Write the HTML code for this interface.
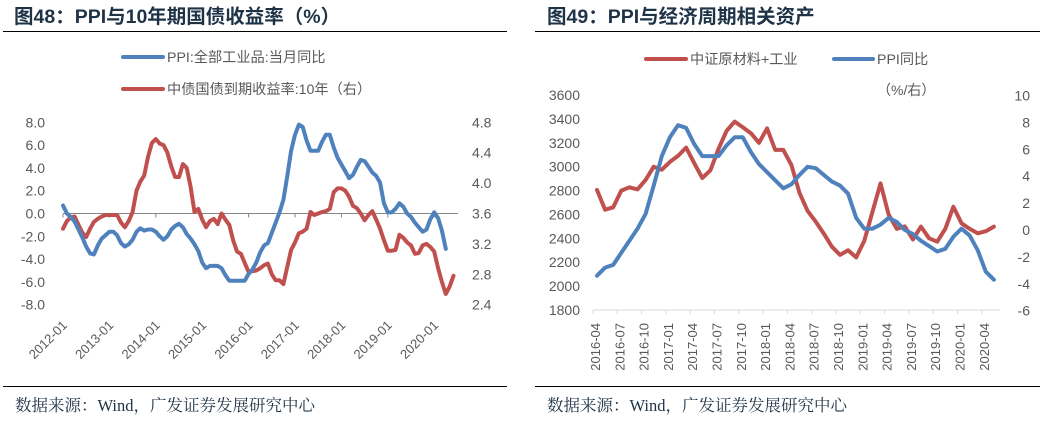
<!DOCTYPE html>
<html><head><meta charset="utf-8">
<style>
body{margin:0;background:#fff;width:1040px;height:424px;overflow:hidden;font-family:"Liberation Sans","Noto Sans CJK SC",sans-serif;}
svg{position:absolute;left:0;top:0}
</style></head>
<body>
<svg id="s" width="1040" height="424" viewBox="0 0 1040 424">
<g>
<text x="14" y="23" font-size="19.5" font-weight="bold" fill="#1f3347">图48：PPI与10年期国债收益率（%）</text>
<line x1="3" y1="31.5" x2="507" y2="31.5" stroke="#000" stroke-width="1"/>
<line x1="123" y1="57" x2="163" y2="57" stroke="#4f81bd" stroke-width="4" stroke-linecap="round"/>
<text x="167" y="62" font-size="14.2" fill="#595959">PPI:全部工业品:当月同比</text>
<line x1="123" y1="89" x2="163" y2="89" stroke="#c0504d" stroke-width="4" stroke-linecap="round"/>
<text x="167" y="94" font-size="14.2" fill="#595959">中债国债到期收益率:10年（右）</text>
<g id="L"></g>
<line x1="3" y1="386.5" x2="507" y2="386.5" stroke="#000" stroke-width="1"/>
<text x="15" y="411" font-size="16.5" fill="#1f3347" font-family="Liberation Serif,Noto Serif CJK SC,serif">数据来源：Wind，广发证券发展研究中心</text>
</g>
<g>
<text x="547" y="23" font-size="19.5" font-weight="bold" fill="#1f3347">图49：PPI与经济周期相关资产</text>
<line x1="535" y1="31.5" x2="1040" y2="31.5" stroke="#000" stroke-width="1"/>
<line x1="646" y1="59" x2="686" y2="59" stroke="#c0504d" stroke-width="4" stroke-linecap="round"/>
<text x="690" y="64" font-size="14.2" fill="#595959">中证原材料+工业</text>
<line x1="834" y1="59" x2="873" y2="59" stroke="#4f81bd" stroke-width="4" stroke-linecap="round"/>
<text x="877" y="64" font-size="14.2" fill="#595959">PPI同比</text>
<text x="877" y="95" font-size="14" fill="#595959">（%/右）</text>
<g id="R"></g>
<line x1="535" y1="386.5" x2="1040" y2="386.5" stroke="#000" stroke-width="1"/>
<text x="547" y="411" font-size="16.5" fill="#1f3347" font-family="Liberation Serif,Noto Serif CJK SC,serif">数据来源：Wind，广发证券发展研究中心</text>
</g>
</svg>
<script>
// ---- Left chart data ----
const leftYearLabels=["2012-01","2013-01","2014-01","2015-01","2016-01","2017-01","2018-01","2019-01","2020-01"];
const leftLeftTicks=[8,6,4,2,0,-2,-4,-6,-8];
const leftRightTicks=[4.8,4.4,4.0,3.6,3.2,2.8,2.4];
const ppiMonthly=[0.7,0.0,-0.3,-0.7,-1.4,-2.1,-2.9,-3.5,-3.6,-2.8,-2.2,-1.9,
-1.6,-1.6,-1.9,-2.6,-2.9,-2.7,-2.3,-1.6,-1.3,-1.5,-1.4,-1.4,
-1.6,-2.0,-2.3,-2.0,-1.4,-1.1,-0.9,-1.2,-1.8,-2.2,-2.7,-3.3,
-4.3,-4.8,-4.6,-4.6,-4.6,-4.8,-5.4,-5.9,-5.9,-5.9,-5.9,-5.9,
-5.3,-4.9,-4.3,-3.4,-2.8,-2.6,-1.7,-0.8,0.1,1.2,3.3,5.5,
6.9,7.8,7.6,6.4,5.5,5.5,5.5,6.3,6.9,6.9,5.8,4.9,
4.3,3.7,3.1,3.4,4.1,4.7,4.6,4.1,3.6,3.3,2.7,0.9,
0.1,0.1,0.4,0.9,0.6,0.0,-0.3,-0.8,-1.2,-1.6,-1.4,-0.5,
0.1,-0.4,-1.5,-3.1];
const yield10y=[3.40,3.50,3.55,3.56,3.45,3.35,3.29,3.40,3.49,3.53,3.56,3.58,
3.58,3.58,3.58,3.48,3.42,3.50,3.62,3.90,4.02,4.10,4.35,4.53,
4.58,4.52,4.50,4.40,4.22,4.08,4.08,4.25,4.20,3.95,3.62,3.66,
3.52,3.42,3.50,3.53,3.46,3.60,3.52,3.45,3.25,3.10,3.07,2.95,
2.83,2.84,2.85,2.88,2.92,2.94,2.80,2.72,2.72,2.67,2.90,3.12,
3.22,3.34,3.36,3.40,3.62,3.58,3.60,3.62,3.63,3.66,3.88,3.93,
3.93,3.90,3.82,3.70,3.67,3.60,3.51,3.58,3.63,3.52,3.40,3.25,
3.11,3.11,3.12,3.32,3.28,3.22,3.18,3.07,3.08,3.18,3.20,3.16,
3.10,2.88,2.70,2.54,2.64,2.78];
// ---- Right chart data ----
const rightMonthLabels=["2016-04","2016-07","2016-10","2017-01","2017-04","2017-07","2017-10","2018-01","2018-04","2018-07","2018-10","2019-01","2019-04","2019-07","2019-10","2020-01","2020-04"];
const rightLeftTicks=[3600,3400,3200,3000,2800,2600,2400,2200,2000,1800];
const rightRightTicks=[10,8,6,4,2,0,-2,-4,-6];
const materialsIndex=[2805,2640,2660,2800,2827,2810,2889,3000,2975,3040,3090,3160,3030,2905,2970,3150,3300,3377,3330,3280,3200,3320,3140,3140,3014,2780,2630,2540,2440,2330,2261,2300,2240,2380,2620,2860,2600,2480,2500,2390,2498,2400,2372,2480,2665,2526,2480,2442,2460,2498];
const ppiYoY=[-3.4,-2.8,-2.6,-1.7,-0.8,0.1,1.2,3.3,5.5,6.9,7.8,7.6,6.4,5.5,5.5,5.5,6.3,6.9,6.9,5.8,4.9,4.3,3.7,3.1,3.4,4.1,4.7,4.6,4.1,3.6,3.3,2.7,0.9,0.1,0.1,0.4,0.9,0.6,0.0,-0.3,-0.8,-1.2,-1.6,-1.4,-0.5,0.1,-0.4,-1.5,-3.1,-3.7];

const NS="http://www.w3.org/2000/svg";
function mk(parent,tag,attrs,text){const e=document.createElementNS(NS,tag);for(const k in attrs)e.setAttribute(k,attrs[k]);if(text!==undefined)e.textContent=text;parent.appendChild(e);return e;}
function pathD(vals,xf,yf){return vals.map((v,i)=>(i?"L":"M")+xf(i).toFixed(1)+","+yf(v).toFixed(1)).join("");}

// Left chart
(function(){
const g=document.getElementById("L");
const x0=63,mpx=46.4/12;
const xs=i=>x0+i*mpx;
const yL=v=>213.5-v*11.4;
const yR=v=>213.5-(v-3.6)*(182.3/2.4);
leftLeftTicks.forEach(t=>{const e=mk(g,"text",{x:45,y:yL(t)+5,"text-anchor":"end","font-size":"14",fill:"#595959"},t.toFixed(1));

});
leftRightTicks.forEach(t=>{const e=mk(g,"text",{x:472,y:yR(t)+5,"font-size":"14",fill:"#595959"},t.toFixed(1));

});
const ax=mk(g,"line",{x1:x0,y1:yL(0),x2:458,y2:yL(0),stroke:"#868686","stroke-width":1});


leftYearLabels.forEach((lab,i)=>{const x=x0+i*12*mpx;
const t=mk(g,"line",{x1:x,y1:yL(0),x2:x,y2:yL(0)+4,stroke:"#868686","stroke-width":1});


const e=mk(g,"text",{x:x+5,y:326,"text-anchor":"end","font-size":"13",fill:"#595959",transform:`rotate(-45 ${x+5} 326)`},lab);

});
const r=mk(g,"path",{d:pathD(yield10y,xs,yR),fill:"none",stroke:"#c0504d","stroke-width":4,"stroke-linejoin":"round","stroke-linecap":"round"});


const b=mk(g,"path",{d:pathD(ppiMonthly,xs,yL),fill:"none",stroke:"#4f81bd","stroke-width":4,"stroke-linejoin":"round","stroke-linecap":"round"});


})();

// Right chart
(function(){
const g=document.getElementById("R");
const x0=593,step=24.3/3;
const xs=i=>x0+4+i*step;
const yL=v=>310-(v-1800)*(215/1800);
const yR=v=>230-v*13.44;
rightLeftTicks.forEach(t=>{const e=mk(g,"text",{x:580,y:yL(t)+5,"text-anchor":"end","font-size":"14",fill:"#595959"},t);

});
rightRightTicks.forEach(t=>{const e=mk(g,"text",{x:1030,y:yR(t)+5,"text-anchor":"end","font-size":"14",fill:"#595959"},t);

});
const ax=mk(g,"line",{x1:x0,y1:310,x2:1000,y2:310,stroke:"#d9d9d9","stroke-width":1});


rightMonthLabels.forEach((lab,i)=>{const x=x0+i*3*step;
const t=mk(g,"line",{x1:x,y1:310,x2:x,y2:314,stroke:"#d9d9d9","stroke-width":1});


const e=mk(g,"text",{x:x+7,y:323,"text-anchor":"end","font-size":"13",fill:"#595959",transform:`rotate(-90 ${x+7} 323)`},lab);

});
const r=mk(g,"path",{d:pathD(materialsIndex,xs,yL),fill:"none",stroke:"#c0504d","stroke-width":4,"stroke-linejoin":"round","stroke-linecap":"round"});


const b=mk(g,"path",{d:pathD(ppiYoY,xs,yR),fill:"none",stroke:"#4f81bd","stroke-width":4,"stroke-linejoin":"round","stroke-linecap":"round"});


})();
</script>
</body></html>
